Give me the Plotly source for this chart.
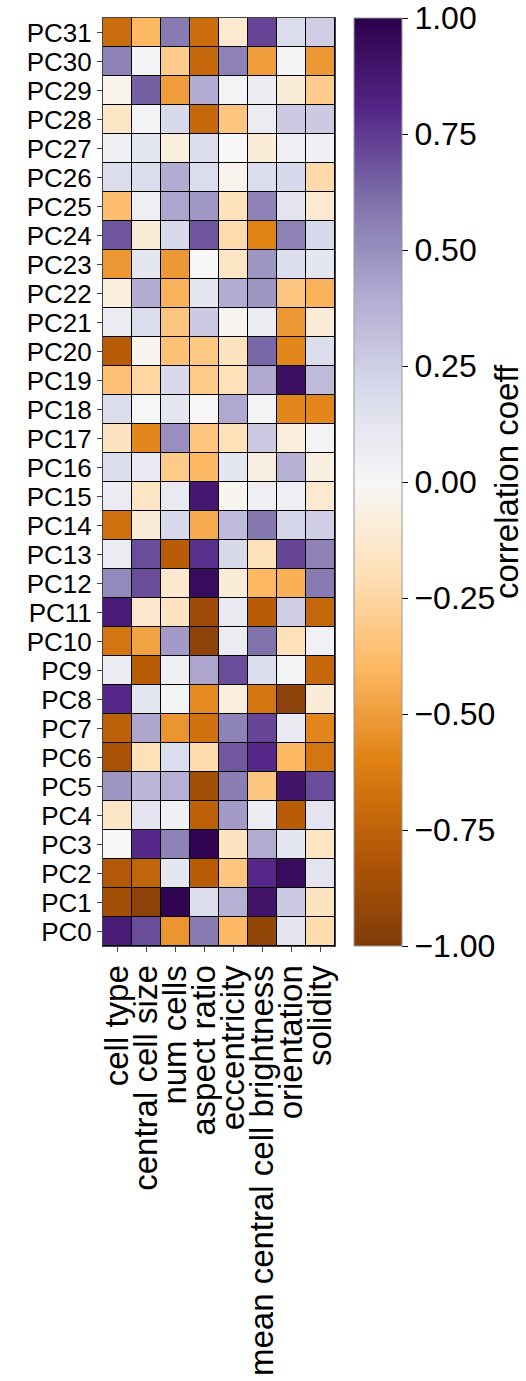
import numpy as np
import plotly.graph_objects as go

features = ["cell type", "central cell size", "num cells", "aspect ratio",
            "eccentricity", "mean central cell brightness", "orientation", "solidity"]
pcs = [f"PC{i}" for i in range(32)]

cell_type = [0.86, -0.86, -0.8, 0.0, -0.15, 0.48, -0.84, -0.76, 0.8, 0.07, -0.66, 0.86, 0.52, 0.08, -0.68, 0.08,
             0.18, -0.17, 0.17, -0.36, -0.78, 0.08, -0.08, -0.52, 0.68, -0.37, 0.17, 0.05, -0.15, -0.03, 0.55, -0.7]
central_cell_size = [0.7, -0.95, -0.74, 0.8, 0.13, 0.35, -0.19, 0.42, 0.12, -0.78, -0.48, -0.13, 0.7, 0.7, -0.1, -0.15,
                     0.1, -0.58, 0.01, -0.25, -0.02, 0.18, 0.4, 0.12, -0.1, 0.06, 0.17, 0.12, 0.02, 0.65, 0.02, -0.4]
num_cells = [-0.53, 0.98, 0.12, 0.55, 0.05, 0.38, 0.18, -0.53, 0.03, 0.05, 0.46, -0.17, -0.13, -0.78, 0.2, 0.1,
             -0.31, 0.5, 0.12, 0.2, -0.36, -0.33, -0.42, -0.52, 0.2, 0.42, 0.4, -0.08, 0.2, -0.5, -0.3, 0.57]
aspect_ratio = [0.57, 0.18, -0.78, 0.98, -0.76, -0.87, -0.22, -0.68, -0.57, 0.42, -0.95, -0.88, 0.94, 0.78, -0.45, 0.88,
                -0.4, -0.33, -0.01, -0.31, -0.32, 0.27, 0.12, 0.0, 0.68, 0.47, 0.18, 0.17, -0.72, 0.4, -0.72, -0.7]
eccentricity = [-0.4, 0.38, -0.33, -0.17, 0.46, 0.56, 0.67, 0.54, -0.08, 0.7, 0.08, 0.1, -0.1, 0.2, 0.33, -0.02,
                0.12, -0.19, 0.41, -0.19, -0.17, -0.02, 0.4, -0.15, -0.22, -0.18, -0.03, 0.0, -0.33, 0.03, 0.55, -0.12]
brightness = [-0.93, 0.9, 0.8, 0.4, 0.07, -0.33, 0.8, 0.72, -0.66, 0.17, 0.6, -0.78, -0.4, -0.18, 0.58, 0.06,
              -0.07, 0.27, 0.03, 0.41, 0.63, 0.08, 0.48, 0.48, -0.6, 0.55, 0.17, -0.1, 0.08, 0.08, -0.5, 0.72]
orientation = [0.13, 0.27, 0.94, 0.12, -0.78, 0.9, -0.4, 0.1, -0.95, 0.03, -0.19, 0.25, -0.43, 0.72, 0.22, 0.06,
               0.38, -0.08, -0.58, 0.92, -0.58, -0.52, -0.33, 0.17, 0.55, 0.13, 0.2, 0.05, 0.27, -0.1, 0.02, 0.18]
solidity = [-0.22, -0.17, 0.13, -0.16, 0.13, 0.7, -0.66, -0.58, -0.1, -0.72, 0.04, -0.73, 0.57, 0.55, 0.25, -0.12,
            -0.07, 0.03, -0.58, 0.33, 0.17, -0.1, -0.42, 0.12, 0.2, -0.12, -0.23, 0.05, 0.27, -0.3, -0.52, 0.25]

cb_tickvals = [-1.0, -0.75, -0.5, -0.25, 0.0, 0.25, 0.5, 0.75, 1.0]
cb_ticktext = ["\u22121.00", "\u22120.75", "\u22120.50", "\u22120.25", "0.00", "0.25", "0.50", "0.75", "1.00"]

z = np.array([cell_type, central_cell_size, num_cells, aspect_ratio,
              eccentricity, brightness, orientation, solidity]).T

FONT = "Liberation Sans, Arial, Helvetica, sans-serif"

fig = go.Figure(go.Heatmap(
    z=z, x=features, y=pcs,
    colorscale="PuOr", zmin=-1, zmax=1,
    xgap=1, ygap=1,
    colorbar=dict(
        x=(354 - 103) / 232, xanchor="left", xpad=0, ypad=0,
        y=0.5, yanchor="middle", len=1.0, lenmode="fraction",
        thickness=48, outlinewidth=1, outlinecolor="#999",
        tickvals=cb_tickvals, ticktext=cb_ticktext,
        ticks="outside", ticklen=6, tickcolor="black",
        tickfont=dict(size=32, color="black", family=FONT),
    ),
))

fig.add_annotation(
    text="correlation coeff", textangle=-90,
    xref="paper", yref="paper", x=(506 - 103) / 232, y=0.5,
    xanchor="center", yanchor="middle", showarrow=False,
    font=dict(size=33, color="black", family=FONT),
)

fig.update_layout(
    width=526, height=1381,
    margin=dict(l=103, r=191, t=18, b=435, autoexpand=False),
    plot_bgcolor="black", paper_bgcolor="white",
    font=dict(family=FONT, color="black"),
)
fig.update_xaxes(type="category", tickmode="array", tickvals=features, ticktext=features,
                 tickangle=-90, ticks="outside", ticklen=5, automargin=False,
                 tickfont=dict(size=33, color="black"), showgrid=False,
                 showline=True, linecolor="#444", mirror=True)
fig.update_yaxes(type="category", tickmode="array", tickvals=pcs, ticktext=pcs,
                 ticks="outside", ticklen=5, automargin=False,
                 tickfont=dict(size=26, color="black"), showgrid=False,
                 showline=True, linecolor="#444", mirror=True)

fig.write_html("out.html")
